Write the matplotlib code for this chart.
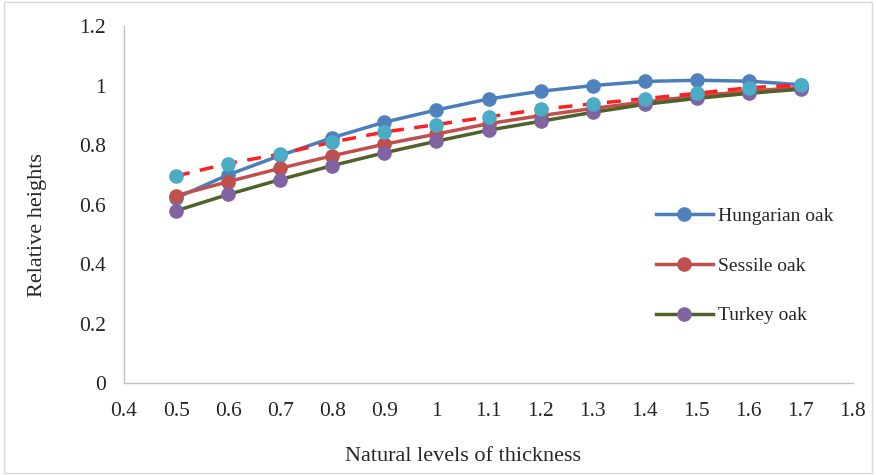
import matplotlib
matplotlib.use("Agg")
import matplotlib.pyplot as plt
from matplotlib.patches import Rectangle

thickness = [0.5, 0.6, 0.7, 0.8, 0.9, 1.0, 1.1, 1.2, 1.3, 1.4, 1.5, 1.6, 1.7]
hungarian = [0.622, 0.700, 0.765, 0.825, 0.877, 0.918, 0.955, 0.981, 1.000, 1.014, 1.018, 1.015, 1.003]
sessile = [0.630, 0.677, 0.722, 0.764, 0.803, 0.837, 0.872, 0.899, 0.923, 0.945, 0.965, 0.981, 0.994]
turkey = [0.579, 0.634, 0.684, 0.731, 0.774, 0.813, 0.850, 0.880, 0.910, 0.937, 0.957, 0.974, 0.988]
fitted = [0.696, 0.738, 0.770, 0.810, 0.844, 0.869, 0.895, 0.920, 0.939, 0.956, 0.974, 0.993, 1.002]

xticks = [0.4, 0.5, 0.6, 0.7, 0.8, 0.9, 1.0, 1.1, 1.2, 1.3, 1.4, 1.5, 1.6, 1.7, 1.8]
xtick_labels = ["0.4", "0.5", "0.6", "0.7", "0.8", "0.9", "1", "1.1", "1.2", "1.3", "1.4", "1.5", "1.6", "1.7", "1.8"]
yticks = [0, 0.2, 0.4, 0.6, 0.8, 1.0, 1.2]
ytick_labels = ["0", "0.2", "0.4", "0.6", "0.8", "1", "1.2"]

plt.rcParams['font.family'] = ['Liberation Serif', 'DejaVu Serif']

fig = plt.figure(figsize=(8.76, 4.75), dpi=100)
ax = fig.add_axes([0.1416, 0.1937, 0.8321, 0.7513])

ms = 9.5
ax.plot(thickness, hungarian, color='#4A7EBB', lw=2.5, marker='o', ms=ms,
        markerfacecolor='#4F81BD', markeredgecolor='#4F81BD', label='Hungarian oak', zorder=3)
ax.plot(thickness, sessile, color='#C0504D', lw=2.5, marker='o', ms=ms,
        markerfacecolor='#C0504D', markeredgecolor='#C0504D', label='Sessile oak', zorder=3)
ax.plot(thickness, turkey, color='#4F6228', lw=2.5, marker='o', ms=ms,
        markerfacecolor='#8064A2', markeredgecolor='#8064A2', label='Turkey oak', zorder=3)
ax.plot(thickness, fitted, color='#FF1F1F', lw=2.5, ls=(0, (4, 3)), marker='o', ms=ms,
        markerfacecolor='#4BACC6', markeredgecolor='#4BACC6', zorder=4)

ax.set_xlim(0.4, 1.8)
ax.set_ylim(0, 1.2)
ax.set_xticks(xticks)
ax.set_xticklabels(xtick_labels)
ax.set_yticks(yticks)
ax.set_yticklabels(ytick_labels)
ax.tick_params(axis='both', length=0, labelsize=15.5, colors='#262626')
ax.tick_params(axis='x', pad=14)
ax.tick_params(axis='y', pad=13)
for s in ['top', 'right']:
    ax.spines[s].set_visible(False)
for s in ['left', 'bottom']:
    ax.spines[s].set_color('#BFBFBF')
    ax.spines[s].set_linewidth(1.0)

ax.set_xlabel('Natural levels of thickness', fontsize=16, color='#262626')
ax.xaxis.set_label_coords(0.465, -0.179)
ax.set_ylabel('Relative heights', fontsize=16, color='#262626')
ax.yaxis.set_label_coords(-0.106, 0.443)

leg = ax.legend(loc='upper left', bbox_to_anchor=(0.706, 0.541), frameon=False,
                fontsize=14, labelspacing=1.65, handlelength=2.9, handletextpad=0.3)
for t in leg.get_texts():
    t.set_color('#262626')

fig.patches.append(Rectangle((0.004, 0.004), 0.992, 0.992, transform=fig.transFigure,
                             fill=False, edgecolor='#D9D9D9', lw=1.0))

fig.savefig('out.png', dpi=100)
